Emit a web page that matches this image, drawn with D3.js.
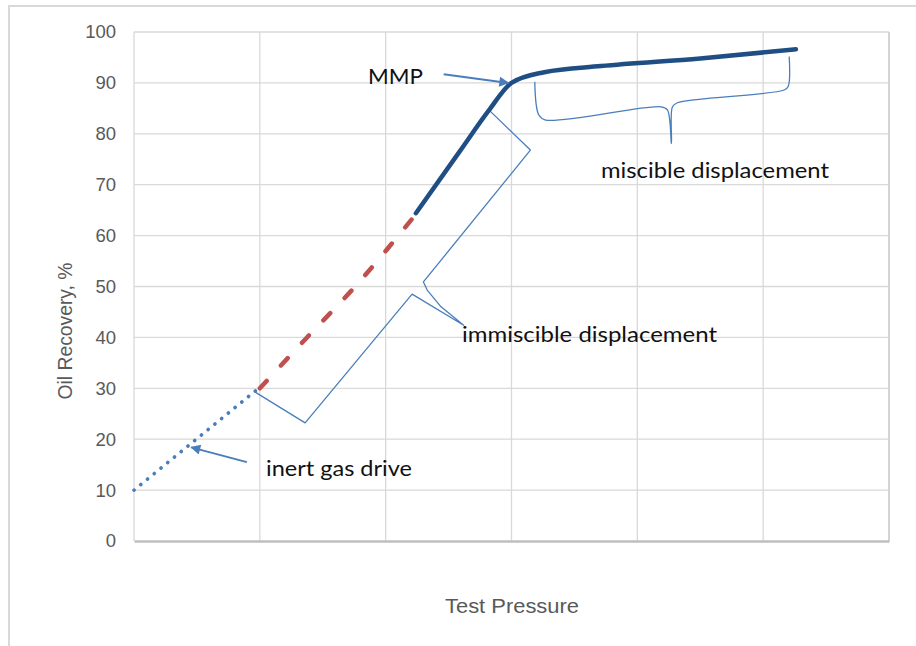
<!DOCTYPE html>
<html>
<head>
<meta charset="utf-8">
<script src="https://cdn.jsdelivr.net/npm/d3@7"></script>
<style>
  body { margin: 0; background: #fff; }
  svg { display: block; }
</style>
</head>
<body>
<script>
// y axis ticks (x axis has gridlines only, no labels)
const yTicks = [0, 10, 20, 30, 40, 50, 60, 70, 80, 90, 100];
const xGrid = [0, 1, 2, 3, 4, 5, 6];

// inert gas drive (dotted)
const inertX = [0, 0.97];
const inertY = [10, 29.6];

// transition (red dashed)
const transX = [1.0, 1.36, 1.75, 2.24];
const transY = [30, 39.6, 49.8, 64.2];

// miscible recovery (thick solid)
const mmpX = [2.24, 2.59, 2.82, 3.0, 3.26, 3.71, 4.5, 5.26];
const mmpY = [64.4, 76.6, 84.6, 90.0, 92.1, 93.3, 94.8, 96.6];

// brace for immiscible displacement
const braceImmX = [0.96, 1.36, 2.21, 2.62, 2.44, 2.33, 2.30, 3.15, 2.82];
const braceImmY = [29.3, 23.2, 48.5, 42.4, 46.0, 49.3, 50.9, 76.8, 84.7];

// brace for miscible displacement
const braceMisX = [3.185, 3.217, 3.271, 4.186, 4.239, 4.271, 4.279, 4.318, 5.167, 5.199, 5.207];
const braceMisY = [90.2, 83.7, 82.7, 85.3, 84.7, 78.1, 85.3, 86.1, 88.6, 89.3, 95.2];

// arrows [fromX, fromY, toX, toY]
const arrowMMP = [2.461, 91.7, 2.975, 90.0];
const arrowInert = [0.897, 15.5, 0.455, 18.4];

const labels = ['MMP', 'miscible displacement', 'immiscible displacement', 'inert gas drive'];

const width = 916, height = 646;
const plot = { left: 134, right: 889, top: 32, bottom: 541 };

const xScale = d3.scaleLinear().domain([0, 6]).range([plot.left, plot.right]);
const yScale = d3.scaleLinear().domain([0, 100]).range([plot.bottom, plot.top]);

const svg = d3.select('body')
              .append('svg')
              .attr('width', width)
              .attr('height', height)
              .style('font-family', "'Liberation Sans', Arial, sans-serif");

// outer chart frame (only top and left visible)
svg.append('path')
   .attr('d', `M9,${height} L9,6 L${width},6`)
   .attr('fill', 'none')
   .attr('stroke', '#d9d9d9')
   .attr('stroke-width', 2);

// gridlines
svg.append('g')
   .selectAll('line')
   .data(yTicks.slice(1))
   .enter()
     .append('line')
     .attr('x1', plot.left).attr('x2', plot.right)
     .attr('y1', d => yScale(d)).attr('y2', d => yScale(d))
     .attr('stroke', '#d9d9d9')
     .attr('stroke-width', 1.3);

svg.append('g')
   .selectAll('line')
   .data(xGrid)
   .enter()
     .append('line')
     .attr('x1', d => xScale(d)).attr('x2', d => xScale(d))
     .attr('y1', plot.top).attr('y2', plot.bottom)
     .attr('stroke', d => d === 6 ? '#d4d4d4' : '#d9d9d9')
     .attr('stroke-width', d => d === 6 ? 2 : 1.3);

// bottom axis line
const xAxis = d3.axisBottom(xScale).tickValues([]).tickSizeOuter(0);
svg.append('g')
   .attr('transform', `translate(0, ${plot.bottom})`)
   .call(xAxis)
   .select('.domain')
     .attr('stroke', '#bfbfbf')
     .attr('stroke-width', 2.5);

// y axis labels
const yAxis = d3.axisLeft(yScale).tickValues(yTicks).tickSize(0).tickPadding(18);
const yg = svg.append('g')
   .attr('transform', `translate(${plot.left}, 0)`)
   .call(yAxis);
yg.select('.domain').remove();
yg.selectAll('text')
  .attr('fill', '#595959')
  .style('font-size', '18.5px')
  .style('font-family', "'Liberation Sans', Arial, sans-serif");

// axis titles
svg.append('text')
   .attr('transform', `translate(72, 331) rotate(-90)`)
   .attr('text-anchor', 'middle')
   .attr('fill', '#595959')
   .attr('textLength', 137)
   .attr('lengthAdjust', 'spacingAndGlyphs')
   .style('font-size', '21px')
   .text('Oil Recovery, %');

svg.append('text')
   .attr('x', 512)
   .attr('y', 613)
   .attr('text-anchor', 'middle')
   .attr('fill', '#595959')
   .attr('textLength', 134)
   .attr('lengthAdjust', 'spacingAndGlyphs')
   .style('font-size', '21px')
   .text('Test Pressure');

const toPts = (xs, ys) => xs.map((x, i) => [x, ys[i]]);

const smooth = d3.line()
                 .x(d => xScale(d[0]))
                 .y(d => yScale(d[1]))
                 .curve(d3.curveCatmullRom.alpha(0.5));
const monotone = d3.line()
                   .x(d => xScale(d[0]))
                   .y(d => yScale(d[1]))
                   .curve(d3.curveMonotoneX);
const straight = d3.line()
                   .x(d => xScale(d[0]))
                   .y(d => yScale(d[1]));

// brace shapes
svg.append('path')
   .attr('d', straight(toPts(braceImmX, braceImmY)))
   .attr('fill', 'none')
   .attr('stroke', '#4a7ebb')
   .attr('stroke-width', 1.3)
   .attr('stroke-linejoin', 'round');

svg.append('path')
   .attr('d', smooth(toPts(braceMisX, braceMisY)))
   .attr('fill', 'none')
   .attr('stroke', '#4a7ebb')
   .attr('stroke-width', 1.3)
   .attr('stroke-linejoin', 'round');

// series
svg.append('path')
   .attr('d', straight(toPts(inertX, inertY)))
   .attr('fill', 'none')
   .attr('stroke', '#4a7ebb')
   .attr('stroke-width', 3.6)
   .attr('stroke-linecap', 'round')
   .attr('stroke-dasharray', '0.1,8.6');

svg.append('path')
   .attr('d', monotone(toPts(transX, transY)))
   .attr('fill', 'none')
   .attr('stroke', '#c0504d')
   .attr('stroke-width', 4.5)
   .attr('stroke-linecap', 'round')
   .attr('stroke-dasharray', '10,21');

svg.append('path')
   .attr('d', monotone(toPts(mmpX, mmpY)))
   .attr('fill', 'none')
   .attr('stroke', '#1f4e85')
   .attr('stroke-width', 4.5)
   .attr('stroke-linecap', 'round');

// arrows
svg.append('defs')
   .append('marker')
   .attr('id', 'head')
   .attr('viewBox', '0 0 10 10')
   .attr('refX', 9).attr('refY', 5)
   .attr('markerWidth', 13).attr('markerHeight', 10)
   .attr('markerUnits', 'userSpaceOnUse')
   .attr('orient', 'auto')
   .append('path')
     .attr('d', 'M0,0 L10,5 L0,10 Z')
     .attr('fill', '#4a7ebb');

[arrowMMP, arrowInert].forEach(a => {
  svg.append('line')
     .attr('x1', xScale(a[0])).attr('y1', yScale(a[1]))
     .attr('x2', xScale(a[2])).attr('y2', yScale(a[3]))
     .attr('stroke', '#4a7ebb')
     .attr('stroke-width', 2)
     .attr('marker-end', 'url(#head)');
});

// annotation labels: [x, y baseline, text length, font size]
const labelPos = [[368, 83.5, 55, 22], [601, 178, 228, 21], [462, 341.5, 255, 21], [266, 475.5, 146, 21]];
svg.append('g')
   .selectAll('text')
   .data(labels)
   .enter()
     .append('text')
     .attr('x', (d, i) => labelPos[i][0])
     .attr('y', (d, i) => labelPos[i][1])
     .attr('textLength', (d, i) => labelPos[i][2])
     .attr('lengthAdjust', 'spacingAndGlyphs')
     .style('font-size', (d, i) => labelPos[i][3] + 'px')
     .style('font-family', "Lato, 'Open Sans', sans-serif")
     .attr('fill', '#111')
     .text(d => d);
</script>
</body>
</html>
